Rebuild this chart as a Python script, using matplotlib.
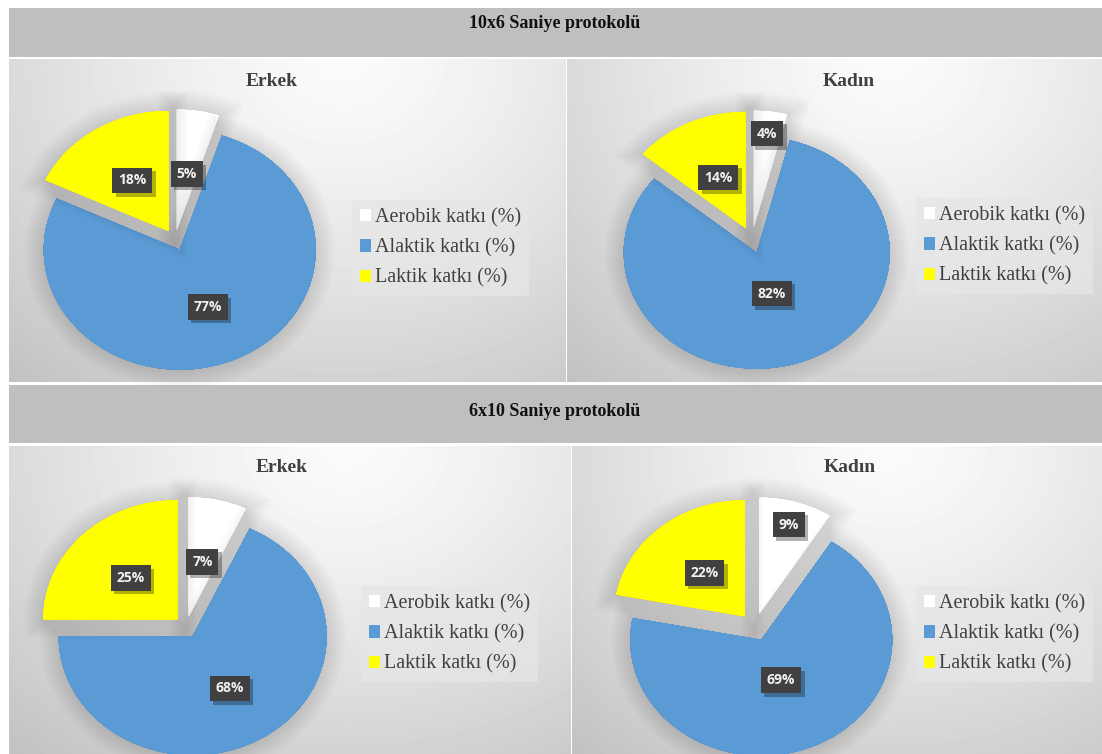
import numpy as np
import matplotlib
matplotlib.use("Agg")
import matplotlib.pyplot as plt
from matplotlib.patches import Rectangle
import matplotlib.patheffects as pe

# ---------------- data ----------------
categories = ['Aerobik katkı (%)', 'Alaktik katkı (%)', 'Laktik katkı (%)']
protocols = ['10x6 Saniye protokolü', '6x10 Saniye protokolü']
groups = ['Erkek', 'Kadın']
erkek_10x6 = [5, 77, 18]
kadin_10x6 = [4, 82, 14]
erkek_6x10 = [7, 68, 25]
kadin_6x10 = [9, 69, 22]
colors = ['#ffffff', '#5b9bd5', '#ffff00']

W, H = 1102, 754
fig = plt.figure(figsize=(W / 100, H / 100), dpi=100)
fig.patch.set_facecolor('white')
bg = fig.add_axes([0, 0, 1, 1])
bg.axis('off')

SERIF = 'Liberation Serif'


def band(y0, y1, ty, title):
    bg.add_patch(Rectangle((9, y0), W - 9, y1 - y0, fc='#bfbfbf', ec='none', zorder=1))
    bg.text(555, ty, title, ha='center', va='center', fontsize=13, fontweight='bold',
            family=SERIF, color='#111111', zorder=3)


def panel(x0, x1, y0, y1, cxf=0.6):
    w, h = int(x1 - x0), int(y1 - y0)
    X, Y = np.meshgrid(np.linspace(0, 1, w), np.linspace(0, 1, h))
    d = np.sqrt(((X - cxf) / 0.8) ** 2 + ((Y - 0.0) / 1.15) ** 2)
    v = 0.985 - 0.19 * np.clip(d, 0, 1.2) ** 1.3
    bg.imshow(v, cmap='gray', vmin=0, vmax=1, extent=(x0, x1, y1, y0), aspect='auto',
              interpolation='bilinear', zorder=1)


band(8, 57, 23, protocols[0])
band(385, 443, 411, protocols[1])
panel(9, 566, 59, 382)
panel(567, W, 59, 382)
panel(9, 571, 446, H)
panel(572, W, 446, H)
bg.set_xlim(0, W)
bg.set_ylim(H, 0)

SHADOW = [pe.withStroke(linewidth=lw, foreground='k', alpha=0.0075)
          for lw in range(28, 1, -2)]


def pie_panel(vals, cx, cy, rx, ry, expl, dists, title, tx, ty, lx, ly):
    ax = fig.add_axes([(cx - 1.3 * rx) / W, 1 - (cy + 1.3 * ry) / H,
                       2.6 * rx / W, 2.6 * ry / H])
    wedges, _ = ax.pie(vals, colors=colors, startangle=90, counterclock=False,
                       explode=[expl] * len(vals), radius=1,
                       wedgeprops=dict(linewidth=0))
    ax.set_aspect('auto')
    ax.set_xlim(-1.3, 1.3)
    ax.set_ylim(-1.3, 1.3)
    ax.axis('off')
    for w in wedges:
        w.set_path_effects(SHADOW + [pe.Normal()])
    total = float(sum(vals))
    for w, v, dist in zip(wedges, vals, dists):
        th = np.deg2rad((w.theta1 + w.theta2) / 2)
        x = w.center[0] + dist * w.r * np.cos(th)
        y = w.center[1] + dist * w.r * np.sin(th)
        s = f"{v / total * 100:.0f}%"
        t = ax.text(x, y, s, ha='center', va='center', fontsize=10, fontweight='bold',
                    family='Open Sans', color='#f2f2f2',
                    bbox=dict(boxstyle='square,pad=0.42', fc='#404040', ec='none'))
        t.get_bbox_patch().set_path_effects(
            [pe.SimplePatchShadow(offset=(2.5, -2.5), shadow_rgbFace='k', alpha=0.3),
             pe.Normal()])
    bg.text(tx, ty, title, ha='center', va='center', fontsize=14, fontweight='bold',
            family=SERIF, color='#404040', zorder=3)
    handles = [Rectangle((0, 0), 1, 1, fc=c, ec='none') for c in colors]
    fig.legend(handles, categories, loc='upper left', bbox_to_anchor=(lx / W, 1 - ly / H),
               prop=dict(family=SERIF, size=14.5), labelcolor='#404040',
               frameon=True, fancybox=False, facecolor='#e6e6e6', edgecolor='none',
               framealpha=0.75, handlelength=0.55, handleheight=0.55, handletextpad=0.2,
               labelspacing=0.55, borderpad=0.4, borderaxespad=0)


pie_panel(erkek_10x6, 175, 240, 136, 120, 0.088, [0.47, 0.52, 0.50],
          groups[0], 272, 81, 352, 200)
pie_panel(kadin_10x6, 752, 240, 133, 116, 0.115, [0.81, 0.37, 0.48],
          groups[1], 849, 81, 916, 198)
pie_panel(erkek_6x10, 186, 627, 134, 119, 0.092, [0.47, 0.52, 0.49],
          groups[0], 282, 467, 361, 586)
pie_panel(kadin_6x10, 755, 627, 131, 116, 0.12, [0.80, 0.38, 0.485],
          groups[1], 850, 467, 916, 586)

fig.savefig('out.png', dpi=100)
